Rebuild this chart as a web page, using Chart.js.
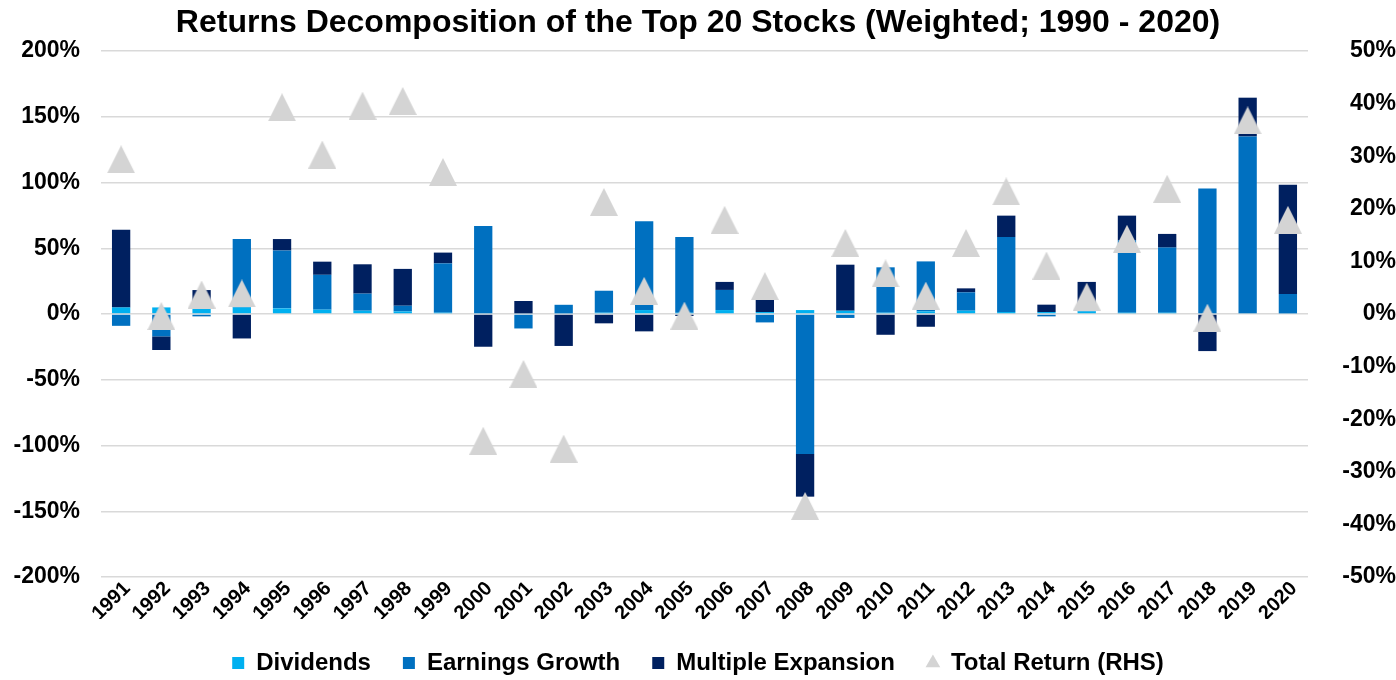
<!DOCTYPE html>
<html>
<head>
<meta charset="utf-8">
<script src="https://cdn.jsdelivr.net/npm/chart.js@4.4.1/dist/chart.umd.min.js"></script>
<style>
  html, body { margin: 0; padding: 0; background: #ffffff; }
  #wrap { width: 1396px; height: 680px; }
</style>
</head>
<body>
<div id="wrap"><canvas id="c" width="1396" height="680"></canvas></div>
<script>
const years = ['1991','1992','1993','1994','1995','1996','1997','1998','1999','2000',
  '2001','2002','2003','2004','2005','2006','2007','2008','2009','2010',
  '2011','2012','2013','2014','2015','2016','2017','2018','2019','2020'];

const dividends = [5, 5, 4.5, 5, 4.3, 3.3, 2.5, 2, 1, 0.5,
  0.5, 0.5, 1, 3, 1, 3, 1.5, 3, 2.5, 1,
  2, 2.5, 1.5, 1.5, 2, 1, 1, 0.5, 0.5, 0.5];

const earningsGrowth = [-9, -17, -1.8, 52, 44, 26.5, 13, 4.3, 37.5, 66.5,
  -11, 6.5, 16.7, 67.5, 57.5, 15.3, -6.4, -106.4, -3, 34.5,
  38, 14, 57, -1.8, 3, 55, 49.5, 95, 134.5, 14.7];

const multipleExpansion = [59, -10.4, 13.7, -18.6, 8.7, 10, 22.3, 28, 8.2, -24.9,
  9.4, -24.3, -7.1, -13.2, -1.5, 6.1, 9.2, -32.5, 35, -15.8,
  -9.7, 3, 16.3, 5.6, 19.4, 18.8, 10.4, -28.2, 29.5, 83];

const totalReturn = [29.4, -0.4, 3.7, 3.9, 39.3, 30.3, 39.6, 40.5, 27, -24.1,
  -11.4, -25.6, 21.3, 4.4, -0.3, 17.9, 5.3, -36.5, 13.5, 7.7,
  3.5, 13.5, 23.3, 9.2, 3.3, 14.3, 23.8, -0.7, 36.8, 17.9];

const leftTicks = { min: -200, max: 200, step: 50 };
const rightTicks = { min: -50, max: 50, step: 10 };

const FONT = 'Arial, "Liberation Sans", sans-serif';
const C_DIV = '#00B0F0', C_EARN = '#0070C0', C_MULT = '#002060', C_TRI = '#D4D4D4';

// centered triangle marker
function makeTriangle(w, h, color) {
  const cv = document.createElement('canvas');
  cv.width = w; cv.height = h;
  const g = cv.getContext('2d');
  g.fillStyle = color;
  g.beginPath();
  g.moveTo(w / 2, 0);
  g.lineTo(w, h);
  g.lineTo(0, h);
  g.closePath();
  g.fill();
  return cv;
}
const triMarker = makeTriangle(28, 28, C_TRI);

const fixW = (w) => (scale) => { scale.width = w; };

new Chart(document.getElementById('c'), {
  data: {
    labels: years,
    datasets: [
      { type: 'bar', label: 'Dividends', data: dividends, backgroundColor: C_DIV, yAxisID: 'y', stack: 's', order: 1 },
      { type: 'bar', label: 'Earnings Growth', data: earningsGrowth, backgroundColor: C_EARN, yAxisID: 'y', stack: 's', order: 1 },
      { type: 'bar', label: 'Multiple Expansion', data: multipleExpansion, backgroundColor: C_MULT, yAxisID: 'y', stack: 's', order: 1 },
      { type: 'line', label: 'Total Return (RHS)', data: totalReturn, yAxisID: 'y2', showLine: false,
        pointStyle: triMarker, pointRadius: 14, pointHoverRadius: 14,
        backgroundColor: C_TRI, borderColor: C_TRI, order: 0 }
    ]
  },
  options: {
    responsive: false,
    animation: false,
    layout: { padding: { left: 0, right: 0, top: 0, bottom: -5 } },
    datasets: { bar: { barPercentage: 0.455, categoryPercentage: 1.0, borderWidth: 0 } },
    plugins: {
      title: {
        display: true,
        text: 'Returns Decomposition of the Top 20 Stocks (Weighted; 1990 - 2020)',
        color: '#000000',
        font: { family: FONT, size: 32, weight: 'bold' },
        padding: { top: 4, bottom: 8.6 }
      },
      legend: {
        position: 'bottom',
        labels: {
          color: '#000000',
          font: { family: FONT, size: 24, weight: 'bold' },
          usePointStyle: true,
          boxWidth: 12, boxHeight: 12,
          padding: 32,
          generateLabels: (chart) => chart.data.datasets.map((ds, i) => ({
            text: ds.label,
            fillStyle: ds.type === 'line' ? C_TRI : ds.backgroundColor,
            strokeStyle: 'rgba(0,0,0,0)',
            lineWidth: 0,
            pointStyle: ds.type === 'line' ? 'triangle' : 'rect',
            hidden: false,
            datasetIndex: i,
            fontColor: '#000000'
          }))
        }
      },
      tooltip: { enabled: false }
    },
    scales: {
      x: {
        type: 'category',
        grid: { display: false, drawTicks: false },
        border: { display: false },
        ticks: {
          color: '#000000',
          font: { family: FONT, size: 20, weight: 'bold' },
          minRotation: 45, maxRotation: 45,
          padding: 0,
          labelOffset: 6,
          autoSkip: false
        },
        afterFit: (scale) => { scale.height = 42; }
      },
      y: {
        position: 'left',
        stacked: true,
        min: leftTicks.min, max: leftTicks.max,
        grid: { color: '#D9D9D9', lineWidth: 1.5, drawTicks: false },
        border: { display: false },
        ticks: {
          stepSize: leftTicks.step,
          color: '#000000',
          font: { family: FONT, size: 23, weight: 'bold' },
          padding: 21,
          callback: (v) => v + '%'
        },
        afterFit: fixW(101)
      },
      y2: {
        position: 'right',
        min: rightTicks.min, max: rightTicks.max,
        grid: { display: false, drawTicks: false },
        border: { display: false },
        ticks: {
          stepSize: rightTicks.step,
          color: '#000000',
          font: { family: FONT, size: 23, weight: 'bold' },
          padding: 18,
          crossAlign: 'far',
          callback: (v) => v + '%'
        },
        afterFit: fixW(88)
      }
    }
  }
});
</script>
</body>
</html>
